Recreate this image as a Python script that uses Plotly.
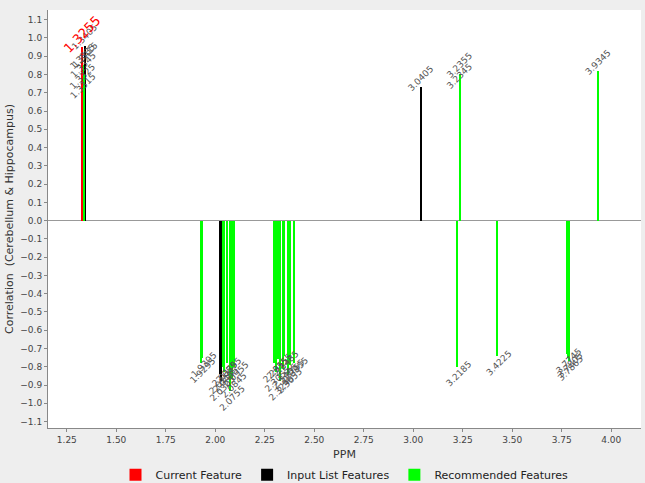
import plotly.graph_objects as go

# Chemical shift (ppm) and correlation for each feature group
current_ppm = [1.3255]
current_corr = [0.95]

input_ppm = [1.3405, 1.3415, 2.0255, 2.0305, 3.0405]
input_corr = [0.955, 0.86, -0.84, -0.88, 0.73]

recommended_ppm = [1.3335, 1.3345, 1.3325, 1.3315,
                   1.9305, 1.9295,
                   2.0375, 2.0455, 2.0595, 2.0755, 2.0845, 2.0955,
                   2.2955, 2.3055, 2.3155, 2.3245, 2.3405, 2.3485, 2.3655, 2.3755, 2.3955,
                   3.2185, 3.2355, 3.2345, 3.4225,
                   3.7745, 3.7805, 3.7865, 3.9345]
recommended_corr = [0.85, 0.80, 0.74, 0.69,
                    -0.75, -0.78,
                    -0.80, -0.83, -0.78, -0.93, -0.86, -0.80,
                    -0.78, -0.83, -0.76, -0.88, -0.81, -0.74, -0.84, -0.79, -0.78,
                    -0.80, 0.80, 0.74, -0.74,
                    -0.73, -0.75, -0.77, 0.82]

x_ticks = [1.25, 1.50, 1.75, 2.00, 2.25, 2.50, 2.75, 3.00, 3.25, 3.50, 3.75, 4.00]
y_ticks = [round(-1.1 + 0.1 * i, 1) for i in range(23)]

FONT = "DejaVu Sans"
BAR_W = 0.0055

fig = go.Figure()

# Drawn back to front so the current feature sits on top
groups = [
    ("Input List Features", input_ppm, input_corr, "#000000", 2),
    ("Recommended Features", recommended_ppm, recommended_corr, "#00ff00", 3),
    ("Current Feature", current_ppm, current_corr, "#ff0000", 1),
]
for name, xs, ys, col, rank in groups:
    fig.add_trace(go.Bar(
        x=xs, y=ys, base=0, width=BAR_W, name=name, legendrank=rank,
        marker=dict(color=col, line=dict(width=0)),
        hoverinfo="x+y",
    ))

# Rotated ppm labels at the end of each bar
annotations = []
for name, xs, ys, col, rank in groups:
    is_current = name == "Current Feature"
    for x, y in zip(xs, ys):
        annotations.append(dict(
            x=x, y=y, xref="x", yref="y",
            text=f"{x:.4f}", showarrow=False, textangle=-45,
            font=dict(family=FONT, size=13 if is_current else 9,
                      color="#ff0000" if is_current else "#555555"),
            xanchor="center", yanchor="middle",
            yshift=(13 if is_current else 9) if y > 0 else -7,
            xshift=0 if y > 0 else 2,
        ))

fig.update_layout(
    width=645, height=483,
    margin=dict(l=48, r=4, t=10, b=55, autoexpand=False),
    paper_bgcolor="#eeeeee", plot_bgcolor="#ffffff",
    barmode="overlay", bargap=0,
    font=dict(family=FONT, size=9, color="#444444"),
    annotations=annotations,
    showlegend=True,
    legend=dict(orientation="h", x=0.5, xanchor="center", y=-0.112, yanchor="middle",
                font=dict(family=FONT, size=11, color="#222222"),
                bgcolor="rgba(0,0,0,0)", itemwidth=30),
    xaxis=dict(
        range=[1.155, 4.15], tickvals=x_ticks, tickformat=".2f",
        ticks="outside", ticklen=3, tickcolor="#888888",
        showline=True, linecolor="#888888", linewidth=1,
        showgrid=False, zeroline=False,
        title=dict(text="PPM", font=dict(family=FONT, size=11, color="#333333"), standoff=6),
        tickfont=dict(family=FONT, size=9, color="#444444"),
    ),
    yaxis=dict(
        range=[-1.135, 1.153], tickvals=y_ticks, tickformat=".1f",
        ticks="outside", ticklen=3, tickcolor="#888888",
        showline=True, linecolor="#888888", linewidth=1,
        showgrid=False, zeroline=True, zerolinecolor="#999999", zerolinewidth=1,
        title=dict(text="Correlation  (Cerebellum & Hippocampus)",
                   font=dict(family=FONT, size=11, color="#333333"), standoff=4),
        tickfont=dict(family=FONT, size=9, color="#444444"),
    ),
)

fig.write_html("out.html")
